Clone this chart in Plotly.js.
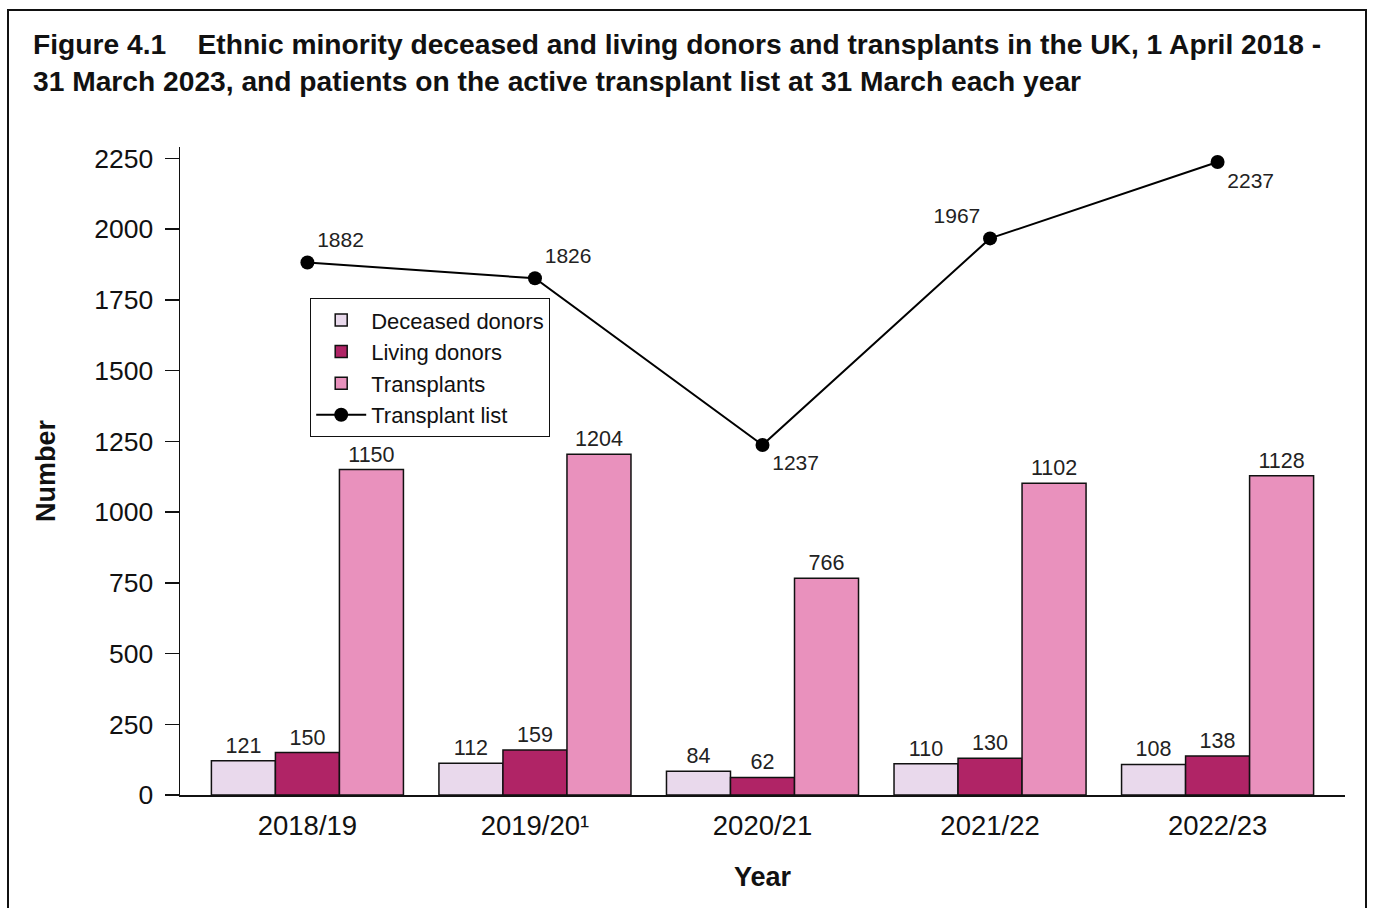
<!DOCTYPE html>
<html>
<head>
<meta charset="utf-8">
<script src="https://cdn.plot.ly/plotly-3.0.1.min.js"></script>
<style>html,body{margin:0;padding:0;background:#fff;}#chart{width:1373px;height:908px;}</style>
</head>
<body>
<div id="chart"></div>
<script>
const years = ["2018/19", "2019/20\u00b9", "2020/21", "2021/22", "2022/23"];
const deceasedDonors = [121, 112, 84, 110, 108];
const livingDonors = [150, 159, 62, 130, 138];
const transplants = [1150, 1204, 766, 1102, 1128];
const transplantList = [1882, 1826, 1237, 1967, 2237];
const listLabelPositions = ["top right", "top right", "bottom right", "top left", "bottom right"];

const FONT = "Liberation Sans, Arial, sans-serif";
const barLine = {color: "#111", width: 1.5};
const barText = {family: FONT, size: 21.5, color: "#222"};

const traces = [
  {type: "bar", name: "Deceased donors", x: years, y: deceasedDonors,
   marker: {color: "#E9D9EC", line: barLine},
   text: deceasedDonors.map(String), textposition: "outside", textfont: barText, cliponaxis: false, hoverinfo: "y"},
  {type: "bar", name: "Living donors", x: years, y: livingDonors,
   marker: {color: "#B02466", line: barLine},
   text: livingDonors.map(String), textposition: "outside", textfont: barText, cliponaxis: false, hoverinfo: "y"},
  {type: "bar", name: "Transplants", x: years, y: transplants,
   marker: {color: "#E991BD", line: barLine},
   text: transplants.map(String), textposition: "outside", textfont: barText, cliponaxis: false, hoverinfo: "y"},
  {type: "scatter", mode: "lines+markers+text", name: "Transplant list", x: years, y: transplantList,
   line: {color: "#000", width: 2}, marker: {color: "#000", size: 14},
   text: transplantList.map(String), textposition: listLabelPositions,
   textfont: {family: FONT, size: 21, color: "#222"}, cliponaxis: false, hoverinfo: "y"}
];

const layout = {
  width: 1373, height: 908,
  paper_bgcolor: "#fff", plot_bgcolor: "#fff",
  margin: {l: 180, r: 28, t: 147, b: 113},
  font: {family: FONT, color: "#111"},
  title: {
    text: "Figure 4.1&nbsp;&nbsp;&nbsp;&nbsp;Ethnic minority deceased and living donors and transplants in the UK, 1 April 2018 -<br>31 March 2023, and patients on the active transplant list at 31 March each year",
    font: {family: FONT, size: 28.2, color: "#111", weight: "bold"},
    xref: "container", x: 33 / 1373, xanchor: "left",
    yref: "container", y: 1 - 54 / 908, yanchor: "top"
  },
  barmode: "group", bargap: 0.156, bargroupgap: 0,
  showlegend: true,
  legend: {
    x: (310 - 180) / 1165, y: (795 - 298) / 648, xanchor: "left", yanchor: "top",
    bordercolor: "#111", borderwidth: 1.2, bgcolor: "#fff",
    font: {family: FONT, size: 22, color: "#111"}, traceorder: "normal",
    tracegroupgap: 0, itemwidth: 50
  },
  xaxis: {
    type: "category", range: [-0.56, 4.56], showline: true, linecolor: "#111", linewidth: 2,
    ticks: "", ticklabelstandoff: 5,
    tickfont: {family: FONT, size: 27.5, color: "#111"},
    showgrid: false, zeroline: false,
    title: {text: "Year", font: {family: FONT, size: 27, color: "#111", weight: "bold"}, standoff: 27}
  },
  yaxis: {
    range: [0, 2290], tickvals: [0, 250, 500, 750, 1000, 1250, 1500, 1750, 2000, 2250],
    showline: true, linecolor: "#111", linewidth: 1.5,
    ticks: "outside", ticklen: 14, tickwidth: 1.5, tickcolor: "#111", ticklabelstandoff: 6,
    tickfont: {family: FONT, size: 26.5, color: "#111"},
    showgrid: false, zeroline: false,
    title: {text: "Number", font: {family: FONT, size: 27, color: "#111", weight: "bold"}, standoff: 31}
  },
  shapes: [{
    type: "rect", xref: "paper", yref: "paper",
    x0: (8 - 180) / 1165, x1: (1366 - 180) / 1165,
    y0: (795 - 930) / 648, y1: (795 - 10) / 648,
    line: {color: "#111", width: 2}, fillcolor: "rgba(0,0,0,0)", layer: "above"
  }]
};

Plotly.newPlot("chart", traces, layout, {displayModeBar: false, staticPlot: true});
</script>
</body>
</html>
